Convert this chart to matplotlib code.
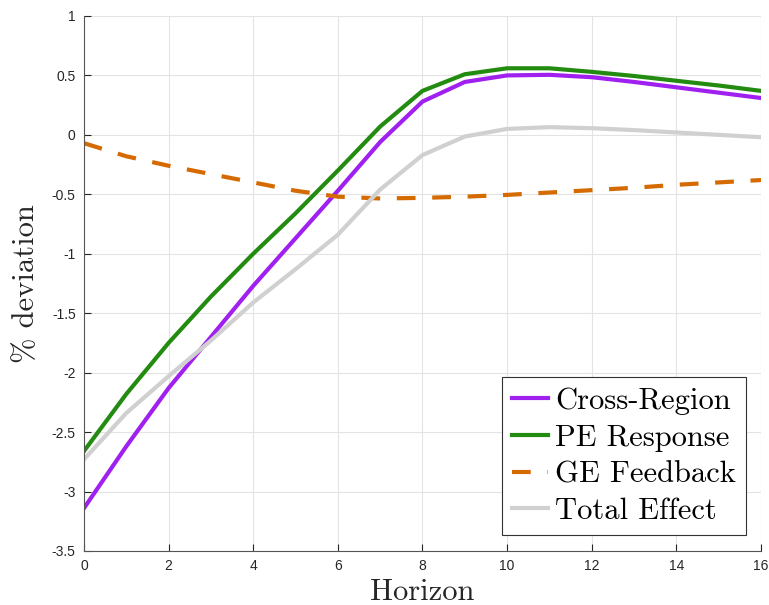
import matplotlib

matplotlib.use('Agg')
import matplotlib.pyplot as plt

horizon = list(range(17))
cross_region = [-3.14, -2.62, -2.13, -1.70, -1.27, -0.87, -0.47, -0.06, 0.28,
                0.445, 0.50, 0.505, 0.485, 0.445, 0.40, 0.355, 0.31]
pe_response = [-2.66, -2.18, -1.75, -1.36, -1.00, -0.66, -0.30, 0.07, 0.37,
               0.51, 0.56, 0.56, 0.53, 0.495, 0.455, 0.415, 0.37]
ge_feedback = [-0.07, -0.18, -0.26, -0.33, -0.40, -0.47, -0.52, -0.535, -0.53,
               -0.52, -0.505, -0.485, -0.465, -0.445, -0.42, -0.40, -0.38]
total_effect = [-2.73, -2.34, -2.03, -1.73, -1.41, -1.13, -0.84, -0.46, -0.17,
                -0.014, 0.05, 0.065, 0.056, 0.04, 0.02, 0.0, -0.02]

x_ticks = list(range(0, 17, 2))
y_ticks = [-3.5, -3, -2.5, -2, -1.5, -1, -0.5, 0, 0.5, 1]
y_tick_labels = ['-3.5', '-3', '-2.5', '-2', '-1.5', '-1', '-0.5', '0', '0.5', '1']

serif = ['cmr10', 'DejaVu Serif']
text_col = '#262626'

fig = plt.figure(figsize=(7.69, 6.05), dpi=100)
ax = fig.add_axes([0.1092, 0.0893, 0.8804, 0.8843])

ax.plot(horizon, cross_region, color='#a020f0', lw=3, label='Cross-Region')
ax.plot(horizon, pe_response, color='#238c10', lw=3, label='PE Response')
ax.plot(horizon, ge_feedback, color='#d46a00', lw=3, dashes=(4.5, 4),
        label='GE Feedback')
ax.plot(horizon, total_effect, color='#d0d0d0', lw=3, label='Total Effect')

ax.set_xlim(0, 16)
ax.set_ylim(-3.5, 1)
ax.set_xticks(x_ticks)
ax.set_xticklabels([str(t) for t in x_ticks], family='Liberation Sans', fontsize=10)
ax.set_yticks(y_ticks)
ax.set_yticklabels(y_tick_labels, family='Liberation Sans', fontsize=10)
ax.tick_params(direction='in', length=5, color=text_col, labelcolor=text_col,
               width=0.8, pad=6)
ax.grid(True, color='#e3e3e3', lw=0.8)
ax.set_axisbelow(True)
for side in ('top', 'right'):
    ax.spines[side].set_visible(False)
for side in ('left', 'bottom'):
    ax.spines[side].set_color('#555555')
    ax.spines[side].set_linewidth(0.8)

ax.set_xlabel('Horizon', family=serif, fontsize=22, color=text_col, labelpad=4)
ax.set_ylabel('% deviation', family=serif, fontsize=22, color=text_col, labelpad=8)

leg = ax.legend(loc='lower right', bbox_to_anchor=(0.978, 0.03),
                prop={'family': serif, 'size': 22}, frameon=True, fancybox=False,
                edgecolor='#333333', framealpha=1, handlelength=1.2,
                handletextpad=0.22, borderpad=0.33, labelspacing=0.3,
                borderaxespad=0)
leg.get_frame().set_linewidth(0.8)

fig.savefig('out.png', dpi=100)
